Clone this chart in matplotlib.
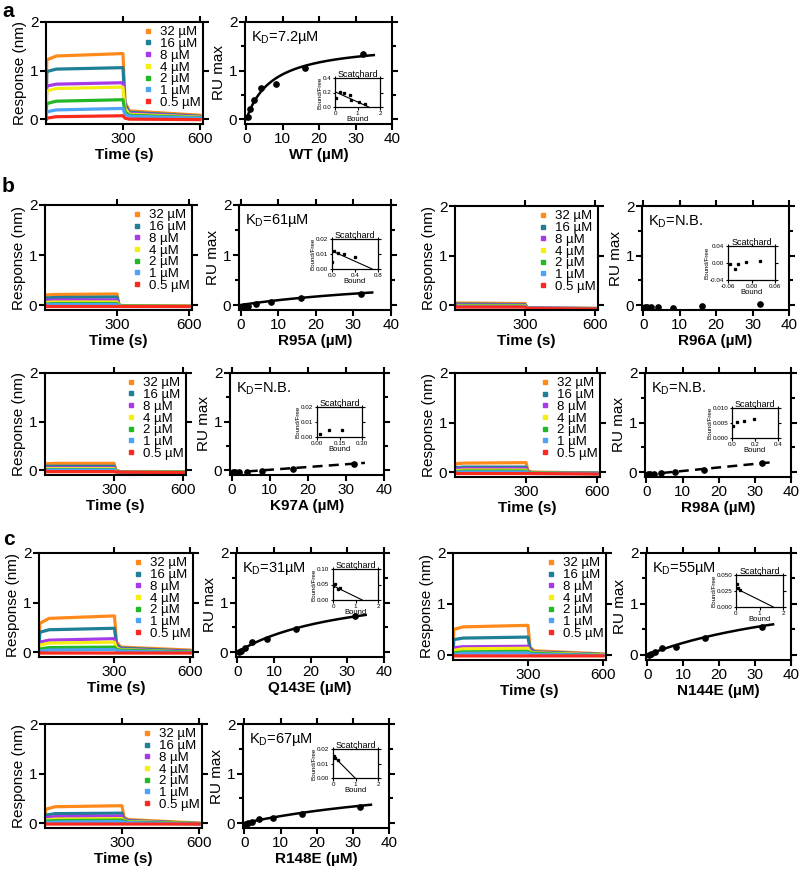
import matplotlib
matplotlib.use('Agg')
import matplotlib.pyplot as plt
from matplotlib.lines import Line2D
from matplotlib.ticker import MultipleLocator
import numpy as np

plt.rcParams['font.family'] = ['Liberation Sans', 'DejaVu Sans']
plt.rcParams['mathtext.default'] = 'regular'

# ---------------- data ----------------
CONC = [32, 16, 8, 4, 2, 1, 0.5]
CONC_LABELS = ['32 µM', '16 µM', '8 µM', '4 µM', '2 µM', '1 µM', '0.5 µM']
COLORS = ['#ff8a1c', '#1f7f96', '#a63ae6', '#f5ee12', '#22b826', '#4da3f5', '#fa2a1e']
SENSOR_TIMES = [0, 3, 40, 300, 308, 325, 600]
BIND_X = [0.5, 1, 2, 4, 8, 16, 32]

# sensorgram rows: 32, 16, 8, 4, 2, 1, 0.5 uM (values at SENSOR_TIMES)
WT_SENSOR = [[0, 1.22, 1.30, 1.35, 0.35, 0.17, 0.08],
             [0, 0.98, 1.03, 1.06, 0.30, 0.14, 0.06],
             [0, 0.68, 0.72, 0.75, 0.25, 0.12, 0.05],
             [0, 0.58, 0.63, 0.66, 0.22, 0.10, 0.04],
             [0, 0.32, 0.37, 0.40, 0.15, 0.08, 0.03],
             [0, 0.15, 0.19, 0.22, 0.10, 0.06, 0.02],
             [0, 0.02, 0.05, 0.07, 0.02, 0.00, -0.01]]
R95A_SENSOR = [[0, 0.20, 0.21, 0.22, 0.00, -0.02, -0.02],
               [0, 0.14, 0.15, 0.16, 0.00, -0.02, -0.02],
               [0, 0.09, 0.10, 0.10, -0.01, -0.02, -0.02],
               [0, 0.05, 0.06, 0.06, -0.01, -0.02, -0.02],
               [0, 0.02, 0.03, 0.03, -0.02, -0.02, -0.03],
               [0, 0.01, 0.01, 0.01, -0.02, -0.03, -0.03],
               [0, -0.03, -0.03, -0.03, -0.03, -0.03, -0.03]]
R96A_SENSOR = [[0, 0.04, 0.04, 0.03, -0.05, -0.06, -0.07],
               [0, 0.02, 0.02, 0.01, -0.05, -0.06, -0.07],
               [0, 0.00, 0.00, 0.00, -0.06, -0.06, -0.07],
               [0, -0.01, -0.01, -0.01, -0.06, -0.07, -0.07],
               [0, -0.02, -0.02, -0.02, -0.06, -0.07, -0.07],
               [0, -0.03, -0.03, -0.03, -0.07, -0.07, -0.08],
               [0, -0.04, -0.04, -0.04, -0.07, -0.07, -0.08]]
K97A_SENSOR = [[0, 0.13, 0.14, 0.14, 0.00, -0.03, -0.04],
               [0, 0.08, 0.08, 0.08, -0.01, -0.03, -0.04],
               [0, 0.05, 0.05, 0.05, -0.02, -0.03, -0.04],
               [0, 0.03, 0.03, 0.03, -0.02, -0.03, -0.04],
               [0, 0.01, 0.01, 0.01, -0.03, -0.04, -0.04],
               [0, 0.00, 0.00, 0.00, -0.03, -0.04, -0.05],
               [0, -0.03, -0.03, -0.03, -0.04, -0.04, -0.05]]
R98A_SENSOR = [[0, 0.17, 0.18, 0.19, 0.02, 0.00, -0.02],
               [0, 0.09, 0.10, 0.10, 0.00, -0.01, -0.02],
               [0, 0.06, 0.07, 0.07, 0.00, -0.01, -0.03],
               [0, 0.03, 0.04, 0.04, -0.01, -0.02, -0.03],
               [0, 0.01, 0.02, 0.02, -0.01, -0.02, -0.03],
               [0, 0.00, 0.00, 0.00, -0.02, -0.03, -0.03],
               [0, -0.03, -0.03, -0.03, -0.03, -0.03, -0.04]]
Q143E_SENSOR = [[0, 0.58, 0.68, 0.73, 0.20, 0.10, 0.04],
                [0, 0.40, 0.45, 0.48, 0.15, 0.08, 0.02],
                [0, 0.20, 0.24, 0.27, 0.10, 0.06, 0.01],
                [0, 0.14, 0.18, 0.20, 0.08, 0.05, 0.00],
                [0, 0.06, 0.09, 0.10, 0.05, 0.04, 0.00],
                [0, 0.02, 0.04, 0.05, 0.03, 0.02, -0.01],
                [0, -0.02, -0.02, -0.02, -0.02, -0.02, -0.02]]
N144E_SENSOR = [[0, 0.50, 0.55, 0.58, 0.15, 0.08, 0.02],
                [0, 0.30, 0.33, 0.35, 0.12, 0.06, 0.01],
                [0, 0.14, 0.16, 0.17, 0.08, 0.05, 0.00],
                [0, 0.09, 0.12, 0.13, 0.06, 0.04, 0.00],
                [0, 0.04, 0.06, 0.07, 0.04, 0.03, -0.01],
                [0, 0.01, 0.03, 0.04, 0.02, 0.01, -0.01],
                [0, -0.02, -0.02, -0.02, -0.02, -0.02, -0.02]]
R148E_SENSOR = [[0, 0.28, 0.33, 0.35, 0.12, 0.07, 0.00],
                [0, 0.16, 0.19, 0.20, 0.08, 0.05, -0.01],
                [0, 0.11, 0.13, 0.14, 0.06, 0.04, -0.01],
                [0, 0.06, 0.08, 0.09, 0.05, 0.03, -0.01],
                [0, 0.04, 0.05, 0.06, 0.04, 0.02, -0.01],
                [0, 0.01, 0.02, 0.03, 0.02, 0.01, -0.02],
                [0, -0.02, -0.02, -0.02, -0.02, -0.02, -0.02]]

# binding (RU max) points
WT_RU = [0.05, 0.20, 0.40, 0.65, 0.73, 1.06, 1.35]
R95A_RU = [-0.03, -0.02, -0.01, 0.03, 0.07, 0.14, 0.22]
R96A_RU = [-0.04, -0.04, -0.04, -0.04, -0.05, -0.02, 0.02]
K97A_RU = [-0.04, -0.04, -0.03, -0.03, -0.01, 0.03, 0.13]
R98A_RU = [-0.04, -0.04, -0.03, -0.02, 0.00, 0.05, 0.18]
Q143E_RU = [0.00, 0.03, 0.08, 0.20, 0.27, 0.47, 0.72]
N144E_RU = [0.00, 0.02, 0.05, 0.13, 0.16, 0.34, 0.55]
R148E_RU = [-0.01, 0.00, 0.02, 0.08, 0.10, 0.19, 0.33]

# one-site fits (Kd, Bmax); None = no binding (linear dashed trend instead)
WT_FIT = (7.2, 1.59)
R95A_FIT = (61, 0.686)
Q143E_FIT = (31, 1.414)
N144E_FIT = (55, 1.543)
R148E_FIT = (67, 1.078)
K97A_TREND = ([0, 35], [-0.05, 0.15])
R98A_TREND = ([0, 35], [-0.05, 0.20])

KD_TEXT = {'WT': '7.2µM', 'R95A': '61µM', 'R96A': 'N.B.', 'K97A': 'N.B.',
           'R98A': 'N.B.', 'Q143E': '31µM', 'N144E': '55µM', 'R148E': '67µM'}

# Scatchard insets: points, fit line
WT_SC = ([0.05, 0.2, 0.4, 0.65, 0.73, 1.06, 1.35], [0.12, 0.21, 0.20, 0.16, 0.09, 0.07, 0.04])
WT_SC_LINE = ([0, 1.5], [0.21, 0.0])
R95A_SC = ([0.0, 0.03, 0.1, 0.2, 0.4], [0.005, 0.012, 0.011, 0.010, 0.008])
R95A_SC_LINE = ([0, 0.7], [0.012, 0.0])
R96A_SC = ([-0.056, -0.043, -0.034, -0.013, 0.021], [-0.003, -0.014, -0.003, 0.003, 0.005])
K97A_SC = ([0.018, 0.078, 0.167], [0.0022, 0.0049, 0.0049])
R98A_SC = ([0.01, 0.043, 0.1, 0.19], [0.0041, 0.0052, 0.0057, 0.0063])
Q143E_SC = ([0.02, 0.1, 0.2, 0.3], [0.045, 0.053, 0.035, 0.04])
Q143E_SC_LINE = ([0, 1.3], [0.046, 0.0])
N144E_SC = ([0.05, 0.1, 0.15], [0.036, 0.029, 0.026])
N144E_SC_LINE = ([0, 1.59], [0.029, 0.0])
R148E_SC = ([0.03, 0.1, 0.2], [0.015, 0.0138, 0.0126])
R148E_SC_LINE = ([0, 0.98], [0.0154, 0.0])

# ---------------- layout ----------------
W, H = 800, 873
fig = plt.figure(figsize=(W / 100, H / 100), dpi=100)


def frect(l, t, r, b):
    return [l / W, 1 - b / H, (r - l) / W, (b - t) / H]


def style(ax, fs=11, length=4, width=1.5):
    for s in ax.spines.values():
        s.set_linewidth(width)
    ax.tick_params(which='both', direction='out', top=True, right=True,
                   labelsize=fs, width=width, pad=1.5)
    ax.tick_params(which='major', length=length)
    ax.tick_params(which='minor', length=length * 0.75)


def sensor(rect, data):
    ax = fig.add_axes(frect(*rect))
    for row, c in zip(data, COLORS):
        ax.plot(SENSOR_TIMES, row, color=c, lw=2.3, solid_joinstyle='round')
    ax.set_xlim(0, 612)
    ax.set_ylim(-0.1, 2)
    ax.set_xticks([300, 600])
    ax.set_yticks([0, 1, 2])
    style(ax)
    ax.set_ylabel('Response (nm)', fontsize=11, labelpad=2)
    ax.set_xlabel('Time (s)', fontsize=11, fontweight='bold', labelpad=2)
    handles = [Line2D([], [], ls='none', marker='s', ms=2.4, color=c) for c in COLORS]
    ax.legend(handles, CONC_LABELS, loc='upper right', bbox_to_anchor=(1.0, 0.985),
              frameon=False, fontsize=9.5, handlelength=0.5, handletextpad=0.6,
              labelspacing=-0.04, borderpad=0.1, borderaxespad=0.1)
    return ax


def binding(rect, name, ru, fit=None, trend=None):
    ax = fig.add_axes(frect(*rect))
    ax.plot(BIND_X, ru, 'o', color='black', ms=3.8, zorder=3)
    if fit is not None:
        kd, bmax = fit
        xf = np.linspace(0, 35, 200)
        ax.plot(xf, bmax * xf / (kd + xf), color='black', lw=1.8)
    if trend is not None:
        ax.plot(trend[0], trend[1], color='black', lw=1.8, ls=(0, (4, 2.5)))
    ax.set_xlim(-0.4, 40)
    ax.set_ylim(-0.1, 2)
    ax.set_xticks([0, 10, 20, 30, 40])
    ax.set_yticks([0, 1, 2])
    ax.yaxis.set_minor_locator(MultipleLocator(0.5))
    style(ax)
    ax.set_ylabel('RU max', fontsize=11, labelpad=2)
    ax.set_xlabel(name + ' (µM)', fontsize=11, fontweight='bold', labelpad=2)
    ax.text(0.04, 0.93, r'K$_D$=' + KD_TEXT[name], transform=ax.transAxes,
            fontsize=10.5, va='top', ha='left')
    return ax


def inset(rect, pts, xlim, ylim, xt, yt, xtl, ytl, line=None):
    ax = fig.add_axes(frect(*rect))
    ax.plot(pts[0], pts[1], 's', color='black', ms=1.4)
    if line is not None:
        ax.plot(line[0], line[1], color='black', lw=0.8)
    ax.set_xlim(*xlim)
    ax.set_ylim(*ylim)
    ax.set_xticks(xt)
    ax.set_xticklabels(xtl)
    ax.set_yticks(yt)
    ax.set_yticklabels(ytl)
    for s in ax.spines.values():
        s.set_linewidth(0.9)
    ax.tick_params(direction='out', top=True, right=True, labelsize=4.5,
                   length=1.8, width=0.8, pad=0.8)
    ax.set_title('Scatchard', fontsize=6.5, pad=1)
    ax.set_xlabel('Bound', fontsize=5.5, labelpad=0)
    ax.set_ylabel('Bound/Free', fontsize=4.5, labelpad=0.3)
    return ax


# panel a
sensor((46, 22, 203, 124), WT_SENSOR)
binding((245, 22, 392, 124), 'WT', WT_RU, fit=WT_FIT)
inset((335, 78, 380, 107), WT_SC, (0, 2), (0, 0.4), [0, 1, 2], [0, 0.2, 0.4],
      ['0', '1', '2'], ['0.0', '0.2', '0.4'], WT_SC_LINE)

# panel b row 1
sensor((45, 205, 192, 310), R95A_SENSOR)
binding((239, 205, 391, 310), 'R95A', R95A_RU, fit=R95A_FIT)
inset((332, 239, 378, 269), R95A_SC, (0, 0.8), (0, 0.02), [0, 0.4, 0.8], [0, 0.01, 0.02],
      ['0.0', '0.4', '0.8'], ['0.00', '0.01', '0.02'], R95A_SC_LINE)

sensor((455, 206, 598, 310), R96A_SENSOR)
binding((642, 206, 789, 310), 'R96A', R96A_RU)
inset((728, 246, 775, 280), R96A_SC, (-0.06, 0.06), (-0.04, 0.04), [-0.06, 0, 0.06],
      [-0.04, 0, 0.04], ['-0.06', '0.00', '0.06'], ['-0.04', '0.00', '0.04'])

# panel b row 2
sensor((45, 373, 186, 475), K97A_SENSOR)
binding((230, 373, 384, 475), 'K97A', K97A_RU, trend=K97A_TREND)
inset((317, 407, 362, 437), K97A_SC, (0, 0.3), (0, 0.02), [0, 0.15, 0.3], [0, 0.01, 0.02],
      ['0.00', '0.15', '0.30'], ['0.00', '0.01', '0.02'])

sensor((455, 373, 600, 477), R98A_SENSOR)
binding((645, 373, 791, 477), 'R98A', R98A_RU, trend=R98A_TREND)
inset((732, 408, 778, 438), R98A_SC, (0, 0.4), (0, 0.01), [0, 0.2, 0.4], [0, 0.005, 0.01],
      ['0.0', '0.2', '0.4'], ['0.000', '0.005', '0.010'])

# panel c row 1
sensor((39, 553, 193, 657), Q143E_SENSOR)
binding((236, 553, 384, 657), 'Q143E', Q143E_RU, fit=Q143E_FIT)
inset((333, 569, 378, 600), Q143E_SC, (0, 2), (0, 0.1), [0, 1, 2], [0, 0.05, 0.1],
      ['0', '1', '2'], ['0.00', '0.05', '0.10'], Q143E_SC_LINE)

sensor((453, 553, 606, 660), N144E_SENSOR)
binding((646, 553, 791, 660), 'N144E', N144E_RU, fit=N144E_FIT)
inset((736, 575, 783, 607), N144E_SC, (0, 2), (0, 0.05), [0, 1, 2], [0, 0.025, 0.05],
      ['0', '1', '2'], ['0.000', '0.025', '0.050'], N144E_SC_LINE)

# panel c row 2
sensor((45, 724, 202, 828), R148E_SENSOR)
binding((243, 724, 389, 828), 'R148E', R148E_RU, fit=R148E_FIT)
inset((333, 749, 378, 778), R148E_SC, (0, 2), (0, 0.02), [0, 1, 2], [0, 0.01, 0.02],
      ['0', '1', '2'], ['0.00', '0.01', '0.02'], R148E_SC_LINE)

# panel letters
for letter, (x, y) in {'a': (2, 2), 'b': (2, 177), 'c': (3, 530)}.items():
    fig.text(x / W, 1 - y / H, letter, fontsize=15, fontweight='bold', va='top', ha='left')

fig.savefig('out.png', dpi=100)
